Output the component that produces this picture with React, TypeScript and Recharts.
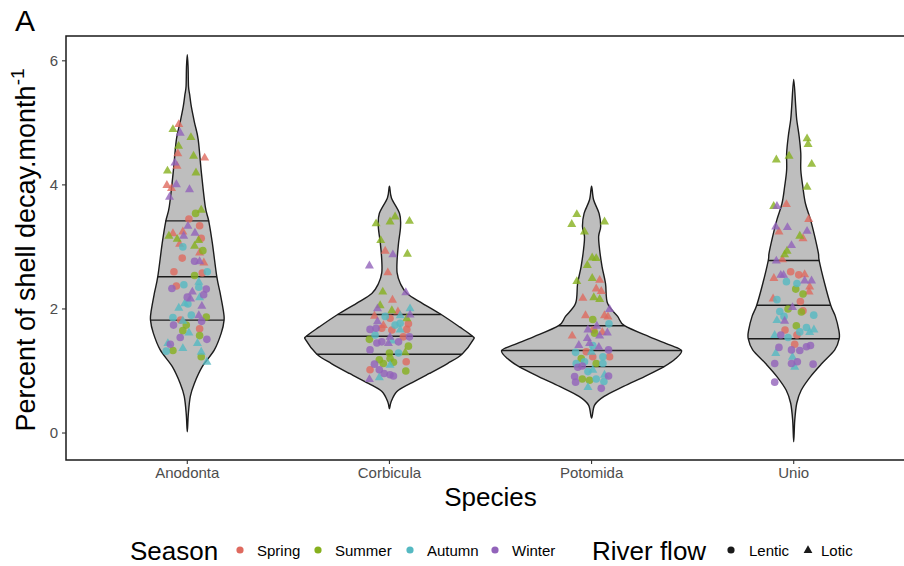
import { ComposedChart, Scatter, XAxis, YAxis, ReferenceArea } from "recharts";

const species = ["Anodonta", "Corbicula", "Potomida", "Unio"];
const seasons = ["Spring", "Summer", "Autumn", "Winter"];
const seasonCodes = ["Sp", "Su", "Au", "Wi"];
const seasonColors = ["#df6a5f", "#86b01e", "#55b9c2", "#9263ba"];
const flows = ["Lentic", "Lotic"];
const flowCodes = ["L", "T"];
const yTicks = [0, 2, 4, 6];

const X_DOMAIN: [number, number] = [0.4, 4.6];
const Y_DOMAIN: [number, number] = [-0.435, 6.4];

// violin outlines: decay level (top to bottom) and half width in category units
const anodontaLevels = [6.1, 5.9, 5.59, 5.45, 5.26, 5.0, 4.73, 4.19, 3.65, 3.42, 3.06, 2.52, 2.25, 1.98, 1.82, 1.61, 1.34, 1.07, 0.8, 0.59, 0.3, 0.02];
const anodontaHalf = [0, 0.004, 0.006, 0.012, 0.02, 0.036, 0.054, 0.07, 0.089, 0.106, 0.124, 0.146, 0.163, 0.178, 0.182, 0.168, 0.134, 0.074, 0.035, 0.015, 0.005, 0];

const corbiculaLevels = [3.98, 3.79, 3.54, 3.33, 3.06, 2.79, 2.58, 2.41, 2.25, 2.09, 1.91, 1.71, 1.56, 1.5, 1.27, 1.12, 0.96, 0.8, 0.67, 0.5, 0.39];
const corbiculaHalf = [0, 0.01, 0.05, 0.055, 0.045, 0.038, 0.038, 0.054, 0.087, 0.163, 0.256, 0.347, 0.411, 0.414, 0.359, 0.287, 0.198, 0.104, 0.037, 0.008, 0];

const potomidaLevels = [3.98, 3.76, 3.54, 3.33, 3.17, 2.95, 2.68, 2.41, 2.09, 1.88, 1.73, 1.55, 1.42, 1.33, 1.2, 1.07, 0.91, 0.75, 0.59, 0.45, 0.24];
const potomidaHalf = [0, 0.01, 0.037, 0.045, 0.035, 0.04, 0.052, 0.069, 0.079, 0.129, 0.163, 0.287, 0.386, 0.445, 0.416, 0.359, 0.262, 0.158, 0.062, 0.015, 0];

const unioLevels = [5.7, 5.26, 5.05, 4.78, 4.51, 4.24, 3.97, 3.7, 3.44, 3.17, 2.9, 2.78, 2.41, 2.06, 1.88, 1.66, 1.52, 1.34, 1.12, 0.91, 0.69, 0.48, 0.2, -0.14];
const unioHalf = [0, 0.01, 0.015, 0.027, 0.035, 0.035, 0.045, 0.058, 0.083, 0.104, 0.122, 0.126, 0.153, 0.183, 0.206, 0.223, 0.225, 0.203, 0.139, 0.083, 0.037, 0.015, 0.005, 0];

// 75 %, 50 % and 25 % quantiles with the violin half width at each
const anodontaQuantiles = [3.42, 2.52, 1.82];
const anodontaQuantileHalf = [0.108, 0.146, 0.182];
const corbiculaQuantiles = [1.91, 1.56, 1.27];
const corbiculaQuantileHalf = [0.256, 0.411, 0.359];
const potomidaQuantiles = [1.73, 1.33, 1.07];
const potomidaQuantileHalf = [0.163, 0.445, 0.359];
const unioQuantiles = [2.78, 2.06, 1.52];
const unioQuantileHalf = [0.126, 0.183, 0.225];

// observations: [season, river flow, decay, jitter]
type Obs = [string, string, number, number];

const anodontaObs: Obs[] = [
  ["Su", "T", 4.9, -0.071], ["Sp", "T", 4.98, -0.042], ["Wi", "T", 4.84, -0.035], ["Su", "T", 4.77, 0.018],
  ["Su", "T", 4.63, -0.043], ["Sp", "T", 4.51, -0.047], ["Su", "T", 4.47, 0.031], ["Sp", "T", 4.44, 0.086],
  ["Wi", "T", 4.36, -0.061], ["Sp", "T", 4.31, -0.051], ["Su", "T", 4.23, -0.098], ["Su", "T", 4.2, 0.043],
  ["Sp", "T", 4.0, -0.101], ["Wi", "T", 4.01, -0.054], ["Sp", "T", 3.95, -0.078], ["Wi", "T", 3.93, 0.011],
  ["Wi", "T", 3.81, -0.088], ["Su", "L", 3.54, 0.041], ["Su", "T", 3.6, 0.069], ["Sp", "L", 3.45, 0.008],
  ["Sp", "L", 3.34, 0.061], ["Wi", "T", 3.34, 0.003], ["Sp", "T", 3.22, -0.071], ["Su", "T", 3.18, -0.091],
  ["Sp", "T", 3.25, -0.022], ["Wi", "T", 3.18, -0.018], ["Wi", "T", 3.23, 0.038], ["Su", "T", 3.13, -0.05],
  ["Sp", "L", 3.14, 0.069], ["Su", "T", 3.11, 0.056], ["Sp", "T", 3.05, -0.038], ["Au", "L", 3.0, -0.022],
  ["Su", "T", 3.02, 0.036], ["Sp", "T", 2.91, 0.061], ["Su", "L", 2.94, 0.077], ["Sp", "L", 2.82, -0.025],
  ["Wi", "T", 2.77, 0.061], ["Sp", "T", 2.75, 0.082], ["Wi", "L", 2.77, 0.036], ["Sp", "L", 2.6, -0.066],
  ["Su", "L", 2.54, 0.036], ["Sp", "L", 2.58, 0.074], ["Au", "L", 2.6, 0.099], ["Au", "T", 2.44, 0.057],
  ["Au", "L", 2.39, -0.017], ["Sp", "L", 2.37, -0.054], ["Wi", "L", 2.33, -0.076], ["Au", "L", 2.35, 0.057],
  ["Wi", "L", 2.32, 0.094], ["Wi", "T", 2.28, 0.025], ["Wi", "L", 2.23, 0.081], ["Wi", "L", 2.19, 0.0],
  ["Au", "T", 2.19, 0.061], ["Wi", "T", 2.17, 0.016], ["Au", "T", 2.09, -0.013], ["Au", "L", 2.08, 0.003],
  ["Wi", "T", 2.05, 0.072], ["Au", "T", 2.02, -0.042], ["Au", "L", 1.9, 0.02], ["Wi", "T", 1.9, 0.057],
  ["Su", "L", 1.87, 0.094], ["Au", "L", 1.86, -0.071], ["Sp", "L", 1.82, -0.033], ["Wi", "L", 1.8, 0.071],
  ["Au", "T", 1.81, -0.022], ["Su", "L", 1.65, -0.022], ["Wi", "L", 1.74, -0.068], ["Su", "L", 1.74, -0.005],
  ["Au", "T", 1.62, 0.008], ["Sp", "L", 1.68, 0.061], ["Su", "L", 1.57, 0.061], ["Wi", "L", 1.54, -0.035],
  ["Wi", "L", 1.51, 0.097], ["Au", "T", 1.45, -0.096], ["Wi", "L", 1.43, -0.084], ["Au", "T", 1.45, 0.05],
  ["Au", "T", 1.37, -0.022], ["Au", "L", 1.32, -0.104], ["Su", "L", 1.33, -0.071], ["Au", "T", 1.31, 0.069],
  ["Su", "L", 1.23, 0.069], ["Au", "T", 1.15, 0.097],
];

const corbiculaObs: Obs[] = [
  ["Su", "T", 3.38, -0.066], ["Su", "T", 3.41, 0.003], ["Su", "T", 3.49, 0.028], ["Su", "T", 3.42, 0.099],
  ["Su", "T", 3.11, -0.043], ["Sp", "T", 2.94, -0.021], ["Wi", "T", 2.88, 0.017], ["Su", "T", 2.89, 0.089],
  ["Wi", "T", 2.7, -0.099], ["Sp", "T", 2.59, -0.008], ["Su", "T", 2.28, -0.033], ["Wi", "T", 2.27, 0.081],
  ["Sp", "T", 2.15, 0.015], ["Su", "T", 2.06, -0.046], ["Wi", "T", 2.01, -0.059], ["Su", "T", 1.98, 0.012],
  ["Au", "T", 2.01, 0.102], ["Sp", "T", 1.96, 0.042], ["Sp", "T", 1.89, -0.074], ["Au", "L", 1.88, -0.021],
  ["Au", "T", 1.9, 0.053], ["Wi", "T", 1.91, 0.102], ["Sp", "L", 1.85, 0.003], ["Su", "T", 1.85, 0.086],
  ["Au", "L", 1.74, 0.028], ["Au", "L", 1.77, 0.053], ["Wi", "T", 1.8, -0.059], ["Sp", "T", 1.74, -0.03],
  ["Sp", "L", 1.76, 0.094], ["Wi", "L", 1.67, -0.096], ["Wi", "L", 1.69, -0.066], ["Sp", "L", 1.69, -0.038],
  ["Sp", "L", 1.66, 0.012], ["Au", "T", 1.67, 0.053], ["Sp", "L", 1.67, 0.086], ["Au", "L", 1.58, -0.071],
  ["Wi", "T", 1.55, 0.003], ["Wi", "L", 1.55, 0.099], ["Sp", "L", 1.55, 0.069], ["Su", "L", 1.51, -0.099],
  ["Wi", "L", 1.45, -0.062], ["Wi", "L", 1.47, -0.038], ["Wi", "T", 1.45, -0.005], ["Au", "T", 1.49, 0.012],
  ["Wi", "L", 1.47, 0.045], ["Su", "L", 1.4, 0.094], ["Wi", "L", 1.34, -0.096], ["Su", "L", 1.29, 0.0],
  ["Au", "L", 1.29, 0.045], ["Su", "T", 1.3, 0.078], ["Su", "L", 1.18, -0.05], ["Su", "L", 1.2, 0.003],
  ["Sp", "L", 1.15, 0.083], ["Su", "L", 1.14, 0.02], ["Au", "T", 1.1, 0.003], ["Wi", "L", 1.11, -0.074],
  ["Su", "L", 1.12, -0.03], ["Sp", "L", 1.02, -0.096], ["Wi", "L", 1.02, -0.05], ["Su", "L", 1.0, 0.081],
  ["Wi", "L", 0.96, -0.026], ["Wi", "L", 0.94, 0.003], ["Wi", "L", 0.92, 0.02], ["Au", "T", 0.9, -0.05],
  ["Wi", "T", 0.87, -0.099],
];

const potomidaObs: Obs[] = [
  ["Su", "T", 3.53, -0.073], ["Su", "T", 3.37, -0.098], ["Su", "T", 3.41, 0.064], ["Su", "T", 3.25, -0.035],
  ["Su", "T", 2.83, 0.003], ["Su", "T", 2.82, 0.023], ["Su", "T", 2.71, -0.021], ["Su", "T", 2.45, -0.073],
  ["Su", "T", 2.5, 0.003], ["Sp", "T", 2.47, 0.04], ["Sp", "T", 2.33, 0.023], ["Sp", "T", 2.29, 0.048],
  ["Su", "T", 2.19, 0.011], ["Su", "T", 2.16, 0.04], ["Sp", "T", 2.18, -0.043], ["Wi", "T", 2.0, 0.089],
  ["Sp", "T", 1.9, -0.03], ["Sp", "T", 1.9, 0.064], ["Su", "L", 1.83, 0.006], ["Sp", "T", 1.88, 0.081],
  ["Au", "L", 1.76, 0.086], ["Wi", "T", 1.73, 0.026], ["Wi", "T", 1.67, -0.018], ["Sp", "L", 1.66, 0.011],
  ["Sp", "T", 1.63, 0.053], ["Wi", "T", 1.62, 0.078], ["Sp", "T", 1.57, -0.096], ["Wi", "T", 1.53, -0.021],
  ["Wi", "T", 1.57, 0.04], ["Su", "L", 1.61, 0.015], ["Wi", "T", 1.42, -0.063], ["Wi", "T", 1.45, -0.01],
  ["Wi", "T", 1.39, 0.036], ["Au", "L", 1.41, 0.006], ["Au", "L", 1.3, -0.079], ["Sp", "L", 1.31, -0.026],
  ["Au", "T", 1.31, -0.001], ["Wi", "L", 1.34, 0.084], ["Su", "L", 1.2, -0.051], ["Sp", "L", 1.23, 0.006],
  ["Sp", "L", 1.23, 0.089], ["Au", "L", 1.23, 0.056], ["Au", "L", 1.15, -0.035], ["Su", "L", 1.12, 0.023],
  ["Au", "L", 1.12, -0.076], ["Au", "L", 1.12, 0.056], ["Wi", "L", 1.06, -0.068], ["Wi", "L", 1.08, -0.046],
  ["Au", "T", 1.02, 0.006], ["Au", "L", 0.99, -0.018], ["Wi", "L", 0.91, -0.084], ["Su", "L", 0.85, -0.01],
  ["Au", "L", 0.87, 0.023], ["Au", "T", 0.94, 0.064], ["Wi", "L", 0.92, 0.084], ["Wi", "L", 0.82, -0.079],
  ["Au", "L", 0.83, 0.061], ["Su", "L", 0.87, -0.046], ["Au", "T", 0.74, -0.018], ["Wi", "L", 0.72, 0.048],
];

const unioObs: Obs[] = [
  ["Su", "T", 4.75, 0.066], ["Su", "T", 4.66, 0.071], ["Su", "T", 4.41, -0.086], ["Su", "T", 4.47, -0.023],
  ["Su", "T", 4.34, 0.089], ["Su", "T", 3.97, 0.066], ["Su", "T", 3.66, -0.099], ["Wi", "T", 3.66, -0.083],
  ["Sp", "T", 3.69, -0.036], ["Sp", "T", 3.45, 0.074], ["Wi", "T", 3.33, -0.089], ["Wi", "T", 3.32, -0.031],
  ["Sp", "T", 3.25, -0.073], ["Wi", "T", 3.26, 0.066], ["Su", "T", 3.18, 0.03], ["Sp", "T", 3.14, 0.046],
  ["Wi", "T", 3.03, -0.011], ["Su", "T", 2.88, -0.045], ["Sp", "T", 2.8, -0.056], ["Wi", "T", 2.78, -0.086],
  ["Su", "T", 2.94, -0.033], ["Sp", "L", 2.6, -0.015], ["Wi", "T", 2.55, -0.064], ["Sp", "T", 2.5, -0.098],
  ["Wi", "T", 2.55, -0.05], ["Sp", "L", 2.55, 0.025], ["Sp", "T", 2.56, 0.054], ["Wi", "T", 2.46, 0.054],
  ["Wi", "T", 2.46, 0.088], ["Au", "L", 2.44, -0.036], ["Au", "L", 2.41, 0.016], ["Sp", "T", 2.36, 0.079],
  ["Su", "L", 2.32, 0.01], ["Sp", "T", 2.28, 0.076], ["Su", "L", 2.24, 0.046], ["Sp", "T", 2.17, -0.102],
  ["Au", "L", 2.15, -0.083], ["Sp", "L", 2.12, 0.033], ["Wi", "T", 2.03, -0.006], ["Su", "L", 2.0, -0.028],
  ["Sp", "L", 1.97, 0.046], ["Su", "L", 1.95, 0.038], ["Au", "L", 1.96, -0.069], ["Au", "L", 1.9, 0.099],
  ["Au", "T", 1.82, -0.083], ["Wi", "T", 1.81, -0.045], ["Au", "L", 1.88, -0.048], ["Su", "L", 1.73, 0.013],
  ["Au", "L", 1.7, 0.063], ["Au", "T", 1.67, 0.1], ["Au", "T", 1.63, 0.079], ["Sp", "L", 1.66, -0.043],
  ["Au", "L", 1.63, 0.03], ["Wi", "L", 1.58, -0.064], ["Au", "T", 1.58, -0.094], ["Au", "L", 1.54, -0.028],
  ["Sp", "L", 1.58, 0.016], ["Sp", "L", 1.43, 0.005], ["Wi", "L", 1.38, -0.073], ["Wi", "L", 1.39, 0.063],
  ["Wi", "L", 1.41, 0.083], ["Wi", "L", 1.33, 0.03], ["Wi", "L", 1.34, -0.011], ["Au", "T", 1.29, -0.089],
  ["Au", "T", 1.23, -0.006], ["Wi", "L", 1.12, -0.094], ["Wi", "L", 1.12, -0.011], ["Wi", "L", 1.15, 0.018],
  ["Au", "T", 1.07, 0.005], ["Wi", "L", 1.11, 0.096], ["Wi", "L", 0.82, -0.094],
];

const violins = [
  { levels: anodontaLevels, half: anodontaHalf, q: anodontaQuantiles, qHalf: anodontaQuantileHalf, obs: anodontaObs },
  { levels: corbiculaLevels, half: corbiculaHalf, q: corbiculaQuantiles, qHalf: corbiculaQuantileHalf, obs: corbiculaObs },
  { levels: potomidaLevels, half: potomidaHalf, q: potomidaQuantiles, qHalf: potomidaQuantileHalf, obs: potomidaObs },
  { levels: unioLevels, half: unioHalf, q: unioQuantiles, qHalf: unioQuantileHalf, obs: unioObs },
];

// closed outline: right side upwards, then left side downwards (tips only once)
const outline = (pos: number, levels: number[], half: number[]) => {
  const right = levels.map((y, k) => ({ x: pos + half[k], y })).reverse();
  const left = levels.map((y, k) => ({ x: pos - half[k], y })).filter((_, k) => half[k] > 0);
  return [...right, ...left];
};

const outlines = violins.map((v, i) => outline(i + 1, v.levels, v.half));

const quantileSegments = violins.flatMap((v, i) =>
  v.q.map((y, k) => [
    { x: i + 1 - v.qHalf[k], y },
    { x: i + 1 + v.qHalf[k], y },
  ])
);

const allObs = violins.flatMap((v, i) =>
  v.obs.map(([s, f, decay, jitter]) => ({ season: s, flow: f, x: i + 1 + jitter, y: decay }))
);

const pointSeries = seasonCodes.flatMap((s, si) =>
  flowCodes.map((f) => ({
    key: `${seasons[si]}-${f}`,
    color: seasonColors[si],
    flow: f,
    data: allObs.filter((o) => o.season === s && o.flow === f),
  }))
);

// closed Catmull-Rom spline through the outline points (pixel space)
const smoothClosed = (pts: { x: number; y: number }[]) => {
  const n = pts.length;
  if (!n) return "";
  let d = `M${pts[0].x},${pts[0].y}`;
  for (let i = 0; i < n; i++) {
    const p0 = pts[(i - 1 + n) % n];
    const p1 = pts[i];
    const p2 = pts[(i + 1) % n];
    const p3 = pts[(i + 2) % n];
    const c1x = p1.x + (p2.x - p0.x) / 6;
    const c1y = p1.y + (p2.y - p0.y) / 6;
    const c2x = p2.x - (p3.x - p1.x) / 6;
    const c2y = p2.y - (p3.y - p1.y) / 6;
    d += ` C${c1x},${c1y} ${c2x},${c2y} ${p2.x},${p2.y}`;
  }
  return d + "Z";
};

const ViolinBody = (props: any) => (
  <path d={smoothClosed(props.points || [])} fill="#bebebe" stroke="#1c1c1c" strokeWidth={1.4} />
);

const Hidden = () => <g />;

const Circle = (props: any) => (
  <circle cx={props.cx} cy={props.cy} r={3.8} fill={props.fill} fillOpacity={0.8} />
);

const Triangle = (props: any) => {
  const { cx, cy } = props;
  return (
    <polygon
      points={`${cx},${cy - 4.9} ${cx + 4.5},${cy + 3} ${cx - 4.5},${cy + 3}`}
      fill={props.fill}
      fillOpacity={0.8}
    />
  );
};

const legendSeason = [240, 318, 410, 495];

export default function App() {
  return (
    <div
      style={{
        position: "fixed",
        left: 0,
        top: 0,
        width: 904,
        height: 566,
        overflow: "hidden",
        background: "#fff",
        fontFamily: "'Liberation Sans', Arial, sans-serif",
      }}
    >
      <ComposedChart width={930} height={566} margin={{ top: 36, right: 15, bottom: 46, left: 0 }}>
        <XAxis
          dataKey="x"
          type="number"
          domain={X_DOMAIN}
          ticks={[1, 2, 3, 4]}
          allowDataOverflow
          tickFormatter={(v: number) => species[v - 1]}
          tick={{ fontSize: 15, fill: "#4d4d4d" }}
          tickLine={{ stroke: "#333", strokeWidth: 1.1 }}
          tickSize={4}
          tickMargin={3}
          axisLine={false}
          height={60}
          label={{ value: "Species", position: "insideBottom", offset: 14, fontSize: 26, fill: "#000" }}
        />
        <YAxis
          dataKey="y"
          type="number"
          domain={Y_DOMAIN}
          ticks={yTicks}
          allowDataOverflow
          tick={{ fontSize: 15, fill: "#4d4d4d" }}
          tickLine={{ stroke: "#333", strokeWidth: 1.1 }}
          tickSize={4}
          tickMargin={4}
          axisLine={false}
          width={66}
        />
        {outlines.map((pts, i) => (
          <Scatter
            key={`violin-${species[i]}`}
            data={pts}
            shape={Hidden}
            line={ViolinBody}
            isAnimationActive={false}
          />
        ))}
        {quantileSegments.map((seg, i) => (
          <Scatter
            key={`quantile-${i}`}
            data={seg}
            shape={Hidden}
            line={{ stroke: "#1c1c1c", strokeWidth: 1.4 }}
            lineJointType="linear"
            isAnimationActive={false}
          />
        ))}
        {pointSeries.map((s) => (
          <Scatter
            key={s.key}
            name={s.key}
            data={s.data}
            fill={s.color}
            shape={s.flow === "T" ? Triangle : Circle}
            isAnimationActive={false}
          />
        ))}
        <ReferenceArea
          x1={X_DOMAIN[0]}
          x2={X_DOMAIN[1]}
          y1={Y_DOMAIN[0]}
          y2={Y_DOMAIN[1]}
          fill="none"
          stroke="#1a1a1a"
          strokeWidth={1.5}
          ifOverflow="visible"
        />
      </ComposedChart>
      <svg
        width={904}
        height={566}
        style={{ position: "absolute", left: 0, top: 0, pointerEvents: "none" }}
      >
        <text x={15} y={31} fontSize={30} fill="#000">
          A
        </text>
        <text x={35} y={250} fontSize={27} fill="#000" textAnchor="middle" transform="rotate(-90 35 250)">
          Percent of shell decay.month
          <tspan dy={-11} fontSize={19}>
            -1
          </tspan>
        </text>
        <text x={130} y={560} fontSize={26} fill="#000">
          Season
        </text>
        {seasons.map((s, i) => (
          <g key={s}>
            <circle cx={legendSeason[i]} cy={550} r={3.6} fill={seasonColors[i]} />
            <text x={legendSeason[i] + 17} y={556} fontSize={15} fill="#000">
              {s}
            </text>
          </g>
        ))}
        <text x={592} y={560} fontSize={26} fill="#000">
          River flow
        </text>
        <circle cx={731} cy={550} r={3.6} fill="#1a1a1a" />
        <text x={749} y={556} fontSize={15} fill="#000">
          {flows[0]}
        </text>
        <polygon points="808,545.2 812.4,552.9 803.6,552.9" fill="#1a1a1a" />
        <text x={821} y={556} fontSize={15} fill="#000">
          {flows[1]}
        </text>
      </svg>
    </div>
  );
}
